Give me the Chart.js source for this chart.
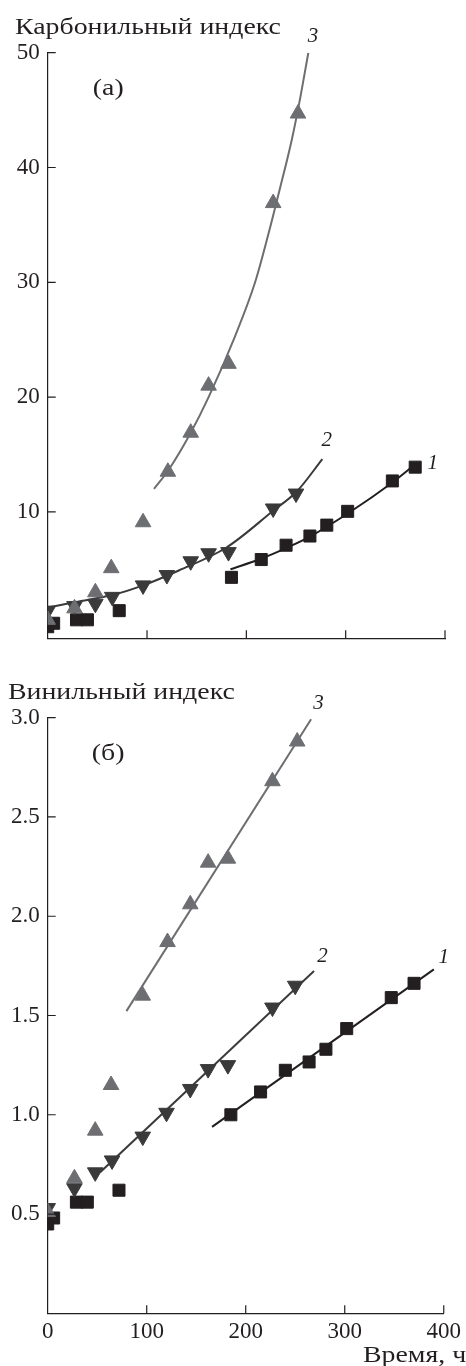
<!DOCTYPE html>
<html>
<head>
<meta charset="utf-8">
<script src="https://cdn.jsdelivr.net/npm/chart.js@4.4.1/dist/chart.umd.min.js"></script>
<style>
  html, body { margin: 0; padding: 0; background: #fff; }
  #wrapA { position: absolute; left: 0; top: 0; width: 466px; height: 660px; }
  #wrapB { position: absolute; left: 0; top: 660px; width: 466px; height: 706px; }
</style>
</head>
<body>
<div id="wrapA"><canvas id="chartA"></canvas></div>
<div id="wrapB"><canvas id="chartB"></canvas></div>
<script>
// ---- measured points: time, h ----
const time1 = [0, 6, 29, 40, 72, 185, 215, 240, 264, 281, 302, 347, 370];
const time2 = [0, 27, 48, 65, 96, 120, 144, 162, 182, 227, 250];
const time3 = [0, 27, 48, 64, 96, 121, 144, 162, 182, 227, 252];

// carbonyl index (panel а)
const carb1 = [0.0, 0.3, 0.6, 0.6, 1.4, 4.3, 5.85, 7.1, 7.9, 8.85, 10.05, 12.7, 13.9];
const carb2 = [1.4, 1.8, 2.0, 2.6, 3.6, 4.5, 5.7, 6.4, 6.5, 10.3, 11.6];
const carb3 = [0.6, 1.6, 3.0, 5.1, 9.1, 13.5, 16.9, 21.0, 22.9, 36.9, 44.7];

// vinyl index (panel б)
const vinyl1 = [0.45, 0.48, 0.56, 0.56, 0.62, 1.0, 1.115, 1.224, 1.266, 1.33, 1.434, 1.59, 1.662];
const vinyl2 = [0.53, 0.63, 0.71, 0.77, 0.89, 1.01, 1.13, 1.23, 1.25, 1.54, 1.65];
const vinyl3 = [0.51, 0.68, 0.92, 1.15, 1.60, 1.87, 2.06, 2.27, 2.29, 2.68, 2.88];

// ---- fitted curves, carbonyl ----
const carbFit1X = [184, 214, 240, 264, 304, 346, 370];
const carbFit1Y = [5.0, 5.9, 6.85, 7.85, 9.97, 12.5, 14.15];
const carbFit2X = [0, 28, 66, 96, 132, 180, 227, 251, 276.5];
const carbFit2Y = [1.67, 2.15, 2.78, 3.6, 4.9, 6.9, 10.1, 11.8, 14.6];
const carbFit3X = [107, 122, 144, 162, 188.6, 208.8, 222.2, 233.9, 245.7, 254.1, 262.4];
const carbFit3Y = [12.0, 13.7, 16.9, 20.0, 25.3, 30.0, 34.2, 38.2, 42.4, 46.0, 50.0];

// ---- fitted lines, vinyl ----
const vinylFit1X = [166, 390];
const vinylFit1Y = [0.939, 1.732];
const vinylFit2X = [53, 269];
const vinylFit2Y = [0.71, 1.724];
const vinylFit3X = [79.5, 266];
const vinylFit3Y = [1.522, 2.992];

// ---- axis ticks ----
const timeTicks = [0, 100, 200, 300, 400];
const carbTicks = [10, 20, 30, 40, 50];
const vinylTicks = [0.5, 1.0, 1.5, 2.0, 2.5, 3.0];

const FONT = '"Liberation Serif", "Times New Roman", serif';
const INK = '#231f20';
const COL1 = '#231f20';
const COL2 = '#3a3a3b';
const COL3 = '#6d6e71';
const WIDE = 1.16;   // horizontal stretch for the wide Cyrillic captions

Chart.defaults.font.family = FONT;
Chart.defaults.font.size = 23;
Chart.defaults.color = INK;

const pts = (xs, ys) => xs.map((x, i) => ({ x: x, y: ys[i] }));

function markerSet(xs, ys, color, style, rotation, radius) {
  return {
    type: 'scatter',
    data: pts(xs, ys),
    showLine: false,
    pointStyle: style,
    rotation: rotation,
    pointRadius: radius,
    pointHoverRadius: radius,
    pointBackgroundColor: color,
    pointBorderColor: color,
    pointBorderWidth: 1,
    clip: 0
  };
}

function fitSet(xs, ys, color) {
  return {
    type: 'line',
    data: pts(xs, ys),
    showLine: true,
    borderColor: color,
    borderWidth: 2,
    pointRadius: 0,
    pointHoverRadius: 0,
    fill: false,
    cubicInterpolationMode: 'monotone',
    clip: 0
  };
}

function wideText(ctx, text, x, y) {
  ctx.save();
  ctx.translate(x, y);
  ctx.scale(WIDE, 1);
  ctx.fillText(text, 0, 0);
  ctx.restore();
}

// inward tick marks, axis captions and curve numbers
const decor = {
  id: 'decor',
  afterDraw(chart, args, o) {
    const ctx = chart.ctx;
    const xs = chart.scales.x, ys = chart.scales.y;
    const a = chart.chartArea;
    ctx.save();
    ctx.strokeStyle = INK;
    ctx.lineWidth = 1.2;
    ctx.beginPath();
    o.yTicks.forEach(v => {
      const p = ys.getPixelForValue(v);
      ctx.moveTo(a.left, p); ctx.lineTo(a.left + 8, p);
    });
    o.xTicks.forEach(v => {
      if (v === xs.min) return;
      const p = xs.getPixelForValue(v);
      ctx.moveTo(p, a.bottom); ctx.lineTo(p, a.bottom - 8);
    });
    ctx.stroke();

    ctx.fillStyle = INK;
    ctx.textAlign = 'left';
    ctx.textBaseline = 'alphabetic';
    ctx.font = '24px ' + FONT;
    wideText(ctx, o.yTitle, o.yTitlePos[0], o.yTitlePos[1]);
    if (o.xTitle) wideText(ctx, o.xTitle, o.xTitlePos[0], o.xTitlePos[1]);

    ctx.textAlign = 'center';
    ctx.textBaseline = 'middle';
    wideText(ctx, o.tag, xs.getPixelForValue(o.tagAt[0]), ys.getPixelForValue(o.tagAt[1]));

    ctx.font = 'italic 21px ' + FONT;
    o.curveLabels.forEach(([t, x, y]) => {
      ctx.fillText(t, xs.getPixelForValue(x), ys.getPixelForValue(y));
    });
    ctx.restore();
  }
};

function makeChart(id, cfg) {
  return new Chart(document.getElementById(id), {
    type: 'scatter',
    data: { datasets: cfg.datasets },
    options: {
      responsive: true,
      maintainAspectRatio: false,
      devicePixelRatio: 1,
      animation: false,
      events: [],
      layout: { padding: { top: cfg.top, right: 21, bottom: 0, left: 0 } },
      plugins: {
        legend: { display: false },
        tooltip: { enabled: false },
        decor: cfg.decor
      },
      scales: {
        x: {
          type: 'linear',
          min: 0, max: 400,
          afterBuildTicks: s => { s.ticks = timeTicks.map(v => ({ value: v })); },
          afterFit: s => { s.height = cfg.xHeight; },
          grid: { display: false, drawTicks: false },
          border: { display: true, color: INK, width: 1.2 },
          ticks: {
            display: cfg.xLabels,
            padding: 5,
            maxRotation: 0,
            color: INK,
            callback: v => String(v)
          }
        },
        y: {
          type: 'linear',
          min: cfg.yMin, max: cfg.yMax,
          afterBuildTicks: s => { s.ticks = cfg.yTicks.map(v => ({ value: v })); },
          afterFit: s => { s.width = 47.7; },
          grid: { display: false, drawTicks: false },
          border: { display: true, color: INK, width: 1.2 },
          ticks: {
            padding: 8,
            color: INK,
            callback: cfg.yFormat
          }
        }
      }
    },
    plugins: [decor]
  });
}

makeChart('chartA', {
  top: 52.7,
  xHeight: 12.7,
  xLabels: false,
  yMin: -1, yMax: 50,
  yTicks: carbTicks,
  yFormat: v => String(v),
  datasets: [
    markerSet(time3, carb3, COL3, 'triangle', 0, 9),
    markerSet(time2, carb2, COL2, 'triangle', 180, 9),
    markerSet(time1, carb1, COL1, 'rect', 0, 8.5),
    fitSet(carbFit3X, carbFit3Y, COL3),
    fitSet(carbFit2X, carbFit2Y, COL2),
    fitSet(carbFit1X, carbFit1Y, COL1)
  ],
  decor: {
    yTicks: carbTicks,
    xTicks: timeTicks,
    yTitle: 'Карбонильный индекс',
    yTitlePos: [15, 34],
    tag: '(а)',
    tagAt: [61, 46.9],
    curveLabels: [['3', 267, 51.4], ['2', 281, 16.2], ['1', 387.7, 14.2]]
  }
});

makeChart('chartB', {
  top: 57.7,
  xHeight: 52.7,
  xLabels: true,
  yMin: 0, yMax: 3.0,
  yTicks: vinylTicks,
  yFormat: v => v.toFixed(1),
  datasets: [
    markerSet(time3, vinyl3, COL3, 'triangle', 0, 9),
    markerSet(time2, vinyl2, COL2, 'triangle', 180, 9),
    markerSet(time1, vinyl1, COL1, 'rect', 0, 8.5),
    fitSet(vinylFit3X, vinylFit3Y, COL3),
    fitSet(vinylFit2X, vinylFit2Y, COL2),
    fitSet(vinylFit1X, vinylFit1Y, COL1)
  ],
  decor: {
    yTicks: vinylTicks,
    xTicks: timeTicks,
    yTitle: 'Винильный индекс',
    yTitlePos: [8, 39],
    xTitle: 'Время, ч',
    xTitlePos: [363, 702],
    tag: '(б)',
    tagAt: [61, 2.82],
    curveLabels: [['3', 273.5, 3.073], ['2', 277.5, 1.799], ['1', 400, 1.791]]
  }
});
</script>
</body>
</html>
